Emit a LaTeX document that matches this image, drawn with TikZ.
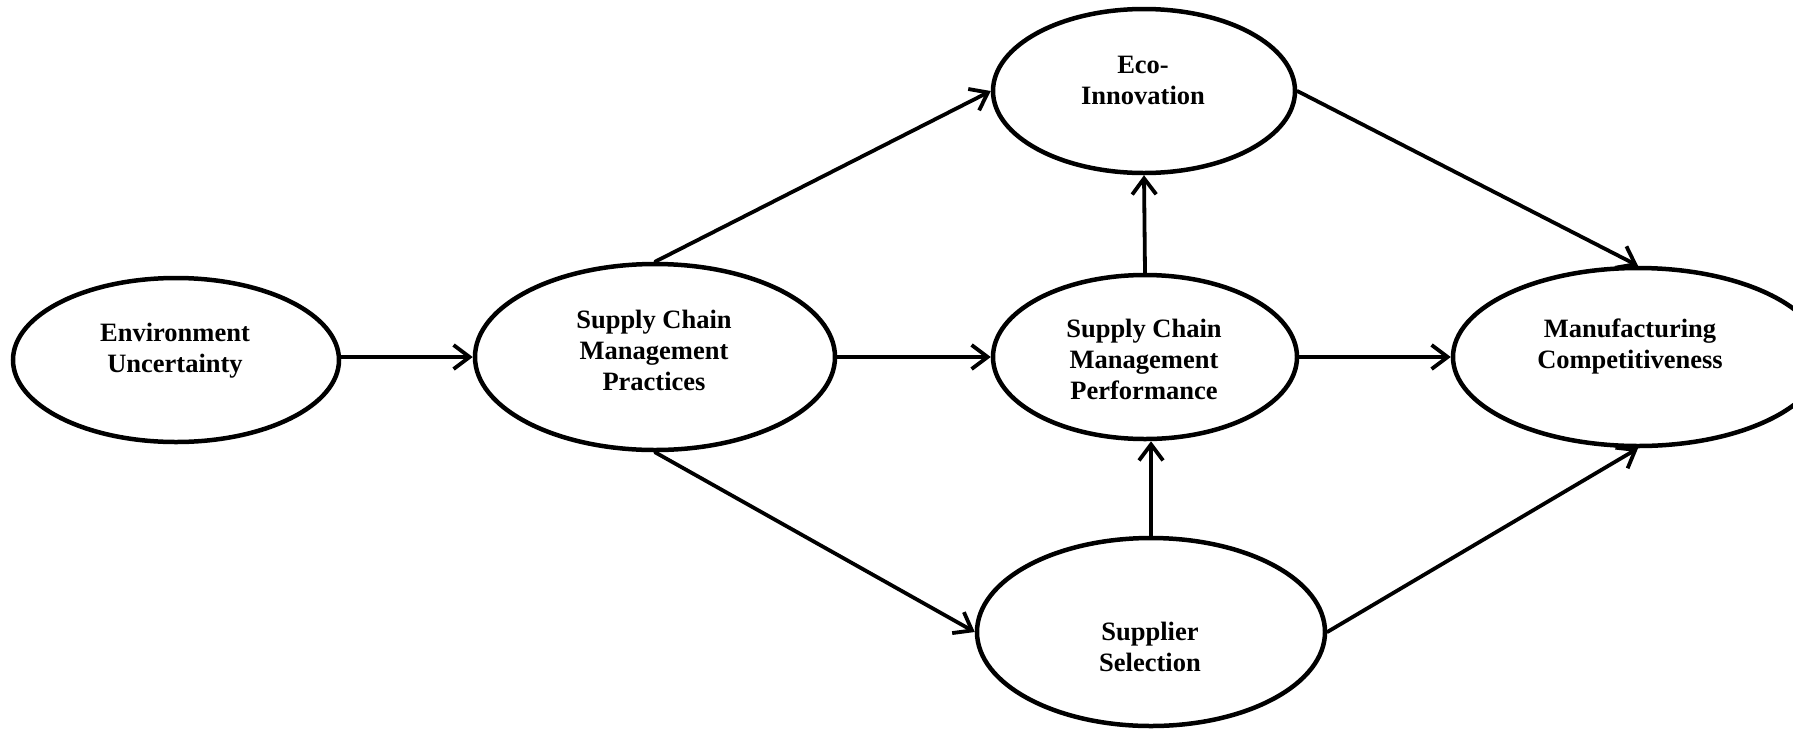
\documentclass[tikz,border=0pt]{standalone}
\usepackage{fontspec}
\setmainfont{Liberation Serif}
\usetikzlibrary{shapes.geometric,arrows.meta}
\begin{document}
\begin{tikzpicture}[x=1pt,y=-1pt,
  construct/.style={draw=black,line width=4.5pt,ellipse,inner sep=0pt,fill=white},
  caption/.style={align=center,font=\fontsize{26.5}{31}\selectfont\bfseries,inner sep=0pt},
  link/.style={line width=3.8pt,-{Straight Barb[length=16pt,width=24pt,line width=3.8pt]},line cap=round}]
  \useasboundingbox (0,0) rectangle (1793,729);

  % constructs
  \node[construct,minimum width=326pt,minimum height=164pt] (env) at (176,360) {};
  \node[construct,minimum width=360pt,minimum height=186pt] (scmp) at (655,357) {};
  \node[construct,minimum width=302pt,minimum height=164pt] (eco) at (1144,91) {};
  \node[construct,minimum width=304pt,minimum height=164pt] (perf) at (1145,357) {};
  \node[construct,minimum width=348pt,minimum height=188pt] (supp) at (1151,632) {};
  \node[construct,minimum width=370pt,minimum height=178pt] (manuf) at (1638,357) {};

  % labels
  \node[caption] (envT) at (175,351) {Environment\\Uncertainty};
  \node[caption] (scmpT) at (654,350) {Supply Chain\\Management\\Practices};
  \node[caption] (ecoT) at (1143,80) {Eco-\\Innovation};
  \node[caption] (perfT) at (1144,359) {Supply Chain\\Management\\Performance};
  \node[caption] (suppT) at (1150,647) {Supplier\\Selection};
  \node[caption] (manufT) at (1630,346) {Manufacturing\\Competitiveness};

  % paths
  \draw[link] (env.east |- scmp.west) -- (scmp.west);
  \draw[link] (scmp.north) -- (eco.west);
  \draw[link] (scmp.east) -- (perf.west);
  \draw[link] (scmp.south) -- (supp.west);
  \draw[link] (perf.north) -- (eco.south);
  \draw[link] (supp.north) -- (supp.north |- perf.south);
  \draw[link] (eco.east) -- (manuf.north);
  \draw[link] (perf.east) -- (manuf.west);
  \draw[link] (supp.east) -- (manuf.south);
\end{tikzpicture}
\end{document}
